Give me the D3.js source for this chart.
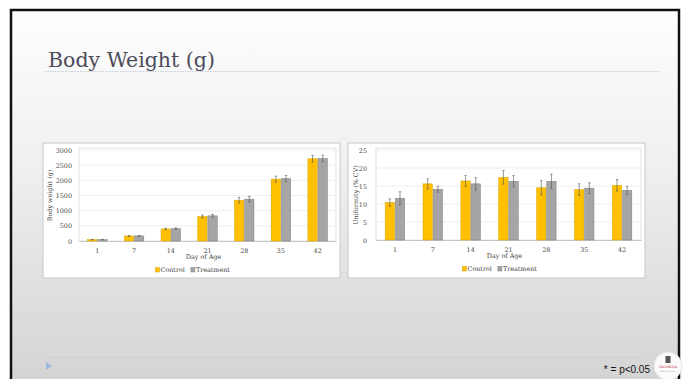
<!DOCTYPE html>
<html>
<head>
<meta charset="utf-8">
<script src="https://cdn.jsdelivr.net/npm/d3@7"></script>
<style>
  html, body { margin: 0; padding: 0; background: #fff; }
  svg { display: block; }
</style>
</head>
<body>
<div id="vizcontainer"></div>
<script>
const width = 685,
  height = 379;

// data
const days = ['1', '7', '14', '21', '28', '35', '42'];
const groups = ['Control', 'Treatment'];

const bwControl = [45, 165, 397, 807, 1346, 2040, 2710];
const bwTreatment = [46, 168, 410, 830, 1380, 2060, 2720];
const bwControlErr = [5, 15, 25, 50, 90, 100, 110];
const bwTreatmentErr = [5, 15, 25, 50, 90, 100, 110];
const bwTicks = [0, 500, 1000, 1500, 2000, 2500, 3000];

const cvControl = [10.4, 15.6, 16.4, 17.4, 14.5, 14.0, 15.2];
const cvTreatment = [11.6, 14.1, 15.6, 16.3, 16.3, 14.4, 13.8];
const cvControlErr = [1.0, 1.4, 1.5, 1.9, 2.0, 1.6, 1.6];
const cvTreatmentErr = [1.8, 0.8, 1.7, 1.6, 2.0, 1.5, 1.1];
const cvTicks = [0, 5, 10, 15, 20, 25];

const colors = { Control: '#ffc000', Treatment: '#a5a5a5' };
const strokes = { Control: '#d9a300', Treatment: '#7f7f7f' };

const serif = "'DejaVu Serif', 'Liberation Serif', serif";
const fs = 6.4;

let viz = d3.select('#vizcontainer')
  .append('svg')
  .attr('width', width)
  .attr('height', height);

// slide background
const defs = viz.append('defs');
const grad = defs.append('linearGradient')
  .attr('id', 'bg')
  .attr('x1', 0).attr('y1', 0).attr('x2', 0).attr('y2', 1);
grad.append('stop').attr('offset', '0%').attr('stop-color', '#fefefe');
grad.append('stop').attr('offset', '40%').attr('stop-color', '#f0f0f0');
grad.append('stop').attr('offset', '100%').attr('stop-color', '#d3d3d3');

viz.append('rect')
  .attr('x', 11).attr('y', 10)
  .attr('width', 668).attr('height', 380)
  .attr('fill', 'url(#bg)')
  .attr('stroke', '#111')
  .attr('stroke-width', 2.5);

// title
viz.append('text')
  .attr('x', 48).attr('y', 67)
  .attr('font-family', serif)
  .attr('font-size', 20.5)
  .attr('fill', '#4b4b5a')
  .text('Body Weight (g)');

viz.append('line')
  .attr('x1', 45).attr('x2', 660)
  .attr('y1', 71.5).attr('y2', 71.5)
  .attr('stroke', '#b7c6d6')
  .attr('stroke-width', 0.8)
  .attr('stroke-dasharray', '1.5,1');

// footer
viz.append('line')
  .attr('x1', 45).attr('x2', 640)
  .attr('y1', 357.5).attr('y2', 357.5)
  .attr('stroke', '#b7c6d6')
  .attr('stroke-width', 0.8)
  .attr('stroke-dasharray', '1.5,1');

viz.append('path')
  .attr('d', 'M46,362 L52,366 L46,370 Z')
  .attr('fill', '#9cbad9');

viz.append('text')
  .attr('x', 650).attr('y', 373)
  .attr('text-anchor', 'end')
  .attr('font-family', "'Liberation Sans', Arial, sans-serif")
  .attr('font-size', 10)
  .attr('fill', '#111')
  .text('* = p<0.05');

// logo
const logo = viz.append('g').attr('transform', 'translate(668,366)');
logo.append('circle').attr('r', 14).attr('fill', '#fafafa').attr('stroke', '#e4e4e4');
logo.append('rect').attr('x', -2.5).attr('y', -10).attr('width', 5).attr('height', 7).attr('fill', '#555');
logo.append('text')
  .attr('y', 2).attr('text-anchor', 'middle')
  .attr('font-family', serif).attr('font-size', 3.6).attr('fill', '#c4314b')
  .text('GEORGIA');
logo.append('text')
  .attr('y', 6).attr('text-anchor', 'middle')
  .attr('font-family', serif).attr('font-size', 2).attr('fill', '#999')
  .text('Poultry Science');

function drawChart(opt) {
  const g = viz.append('g');

  // chart box
  g.append('rect')
    .attr('x', opt.box[0]).attr('y', opt.box[1])
    .attr('width', opt.box[2]).attr('height', opt.box[3])
    .attr('fill', '#fff')
    .attr('stroke', '#c8c8c8')
    .attr('stroke-width', 1);

  const x0 = d3.scaleBand()
    .domain(days)
    .range([opt.left, opt.right]);

  const pair = 19.5;
  const x1 = d3.scaleBand()
    .domain(groups)
    .range([(x0.bandwidth() - pair) / 2, (x0.bandwidth() + pair) / 2])
    .paddingInner(0.08);

  const y = d3.scaleLinear()
    .domain([0, opt.ticks[opt.ticks.length - 1]])
    .range([opt.bottom, opt.top]);

  // plot area frame
  g.append('rect')
    .attr('x', opt.left).attr('y', opt.top - 2)
    .attr('width', opt.right - opt.left).attr('height', opt.bottom - opt.top + 2)
    .attr('fill', 'none')
    .attr('stroke', '#dcdcdc')
    .attr('stroke-width', 0.8);

  // gridlines
  g.append('g')
    .selectAll('line')
    .data(opt.ticks.slice(1))
    .join('line')
    .attr('x1', opt.left).attr('x2', opt.right)
    .attr('y1', d => y(d)).attr('y2', d => y(d))
    .attr('stroke', '#e8e8e8')
    .attr('stroke-width', 0.7);

  // y axis
  const yAxis = g.append('g')
    .attr('transform', `translate(${opt.left},0)`)
    .call(d3.axisLeft(y).tickValues(opt.ticks).tickFormat(d3.format('d')).tickSize(0).tickPadding(opt.tickPad));
  yAxis.select('.domain').remove();
  yAxis.selectAll('text')
    .attr('font-family', serif)
    .attr('font-size', fs)
    .attr('fill', '#444');

  // x axis
  const xAxis = g.append('g')
    .attr('transform', `translate(0,${opt.bottom})`)
    .call(d3.axisBottom(x0).tickSize(0).tickPadding(7));
  xAxis.select('.domain')
    .attr('stroke', '#bbb')
    .attr('stroke-width', 0.8);
  xAxis.selectAll('text')
    .attr('font-family', serif)
    .attr('font-size', fs)
    .attr('fill', '#444');

  // bars
  const rows = days.map((d, i) => ({
    day: d,
    vals: [
      { key: 'Control', v: opt.control[i], e: opt.controlErr[i] },
      { key: 'Treatment', v: opt.treatment[i], e: opt.treatmentErr[i] }
    ]
  }));

  const grp = g.append('g')
    .selectAll('g')
    .data(rows)
    .join('g')
    .attr('transform', d => `translate(${x0(d.day)},0)`);

  grp.selectAll('rect')
    .data(d => d.vals)
    .join('rect')
    .attr('x', d => x1(d.key))
    .attr('y', d => y(d.v))
    .attr('width', x1.bandwidth())
    .attr('height', d => y(0) - y(d.v))
    .attr('fill', d => colors[d.key])
    .attr('stroke', d => strokes[d.key])
    .attr('stroke-width', 0.5);

  // error bars
  const eb = grp.selectAll('g.err')
    .data(d => d.vals)
    .join('g')
    .attr('class', 'err')
    .attr('transform', d => `translate(${x1(d.key) + x1.bandwidth() / 2},0)`);
  eb.append('line')
    .attr('y1', d => y(d.v - d.e)).attr('y2', d => y(d.v + d.e))
    .attr('stroke', '#555').attr('stroke-width', 0.6);
  eb.append('line')
    .attr('x1', -1.2).attr('x2', 1.2)
    .attr('y1', d => y(d.v + d.e)).attr('y2', d => y(d.v + d.e))
    .attr('stroke', '#555').attr('stroke-width', 0.6);
  eb.append('line')
    .attr('x1', -1.2).attr('x2', 1.2)
    .attr('y1', d => y(d.v - d.e)).attr('y2', d => y(d.v - d.e))
    .attr('stroke', '#555').attr('stroke-width', 0.6);

  // axis titles
  g.append('text')
    .attr('transform', `translate(${opt.yTitleX},${(opt.top + opt.bottom) / 2}) rotate(-90)`)
    .attr('text-anchor', 'middle')
    .attr('font-family', serif)
    .attr('font-size', fs)
    .attr('fill', '#444')
    .text(opt.yTitle);

  g.append('text')
    .attr('x', (opt.left + opt.right) / 2 - 4)
    .attr('y', opt.bottom + 18)
    .attr('text-anchor', 'middle')
    .attr('font-family', serif)
    .attr('font-size', fs)
    .attr('fill', '#444')
    .text('Day of Age');

  // legend
  const leg = g.append('g')
    .attr('transform', `translate(${(opt.left + opt.right) / 2 - opt.legShift},${opt.bottom + 31})`);
  let lx = 0;
  groups.forEach(k => {
    leg.append('rect')
      .attr('x', lx).attr('y', -4.5)
      .attr('width', 4).attr('height', 4.5)
      .attr('fill', colors[k])
      .attr('stroke', strokes[k])
      .attr('stroke-width', 0.5);
    const t = leg.append('text')
      .attr('x', lx + 5).attr('y', 0)
      .attr('font-family', serif)
      .attr('font-size', fs)
      .attr('fill', '#444')
      .text(k);
    lx += 5 + t.node().getComputedTextLength() + 6;
  });
}

drawChart({
  box: [43, 143, 297, 135],
  left: 79, right: 336, top: 150, bottom: 241,
  ticks: bwTicks,
  tickPad: 7,
  legShift: 52,
  control: bwControl, treatment: bwTreatment,
  controlErr: bwControlErr, treatmentErr: bwTreatmentErr,
  yTitle: 'Body weight (g)', yTitleX: 52
});

drawChart({
  box: [348, 143, 297, 135],
  left: 376, right: 641, top: 150, bottom: 240,
  ticks: cvTicks,
  tickPad: 9,
  legShift: 46,
  control: cvControl, treatment: cvTreatment,
  controlErr: cvControlErr, treatmentErr: cvTreatmentErr,
  yTitle: 'Uniformity (% CV)', yTitleX: 358
});
</script>
</body>
</html>
